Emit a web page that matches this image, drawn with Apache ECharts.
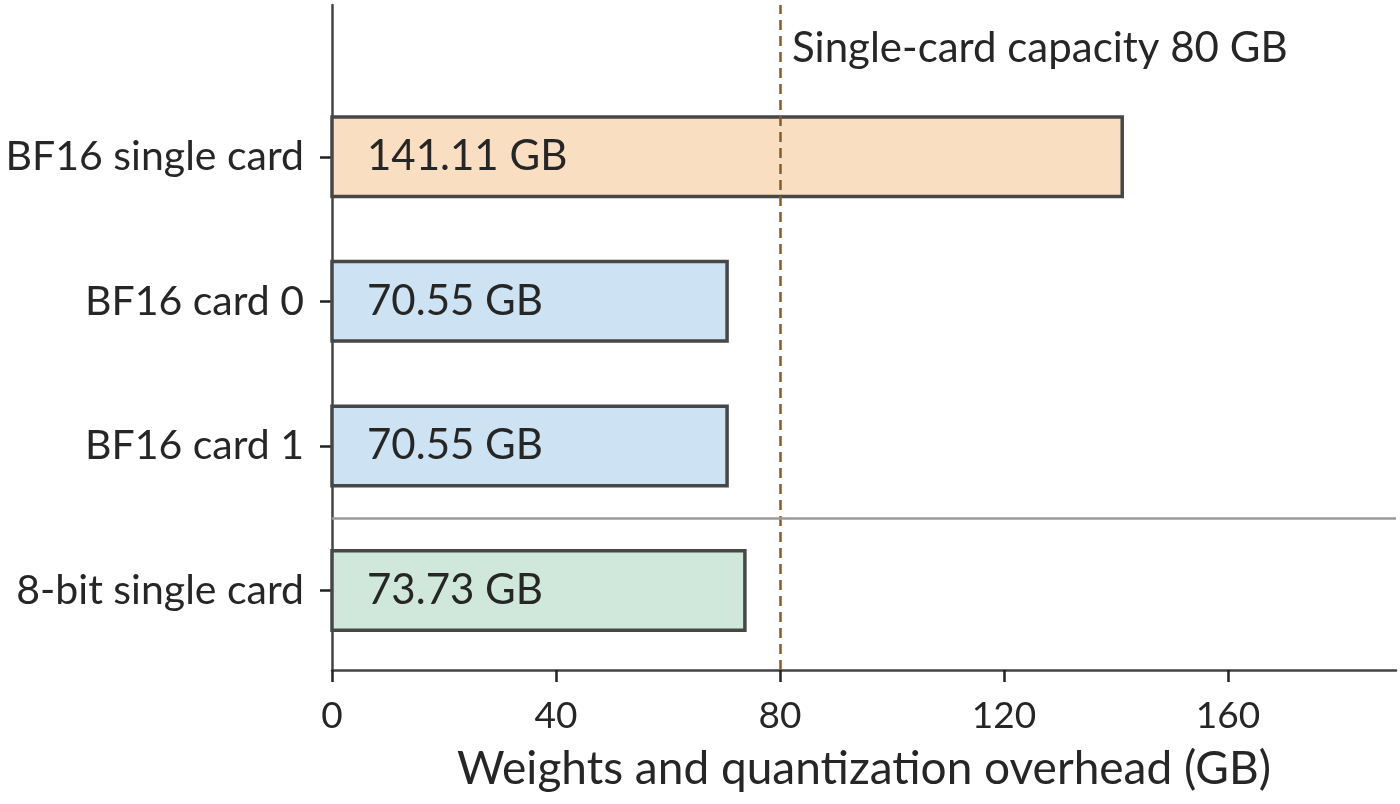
<!DOCTYPE html>
<html>
<head>
<meta charset="utf-8">
<script src="https://cdn.jsdelivr.net/npm/echarts@6/dist/echarts.min.js"></script>
<style>
  html, body { margin: 0; padding: 0; background: #fff; }
  #main { width: 1400px; height: 804px; }
</style>
</head>
<body>
<div id="main"></div>
<script>
// data, bottom to top (value axis position = index)
var categories = ['8-bit single card', 'BF16 card 1', 'BF16 card 0', 'BF16 single card'];
var memory = [73.73, 70.55, 70.55, 141.11];
var xTicks = [0, 40, 80, 120, 160];
var capacity = 80;
var capacityText = 'Single-card capacity 80 GB';

var fills = ['#d0e8dc', '#cde3f3', '#cde3f3', '#f9dec1'];
var font = 'Lato, "Source Sans Pro", sans-serif';
var barH = 0.55;

var myChart = echarts.init(document.getElementById('main'));

var barData = memory.map(function (v, i) { return [v, i]; });

var option = {
    backgroundColor: '#ffffff',
    animation: false,
    textStyle: { fontFamily: font },
    grid: { left: 332, right: 4, top: 5, bottom: 134 },
    xAxis: {
        type: 'value',
        min: 0,
        max: 190,
        interval: 40,
        name: 'Weights and quantization overhead (GB)',
        nameLocation: 'middle',
        nameGap: 76,
        nameTextStyle: { fontSize: 46, color: '#262626', fontFamily: font },
        axisLine: { show: true, onZero: false, lineStyle: { color: '#444', width: 2.5 } },
        axisTick: { show: true, length: 12, customValues: xTicks, lineStyle: { color: '#222', width: 2.5 } },
        axisLabel: { customValues: xTicks, fontSize: 37, color: '#262626', margin: 28, fontFamily: font },
        splitLine: { show: false }
    },
    yAxis: {
        type: 'value',
        min: -0.55,
        max: 4.05,
        axisLine: { show: true, onZero: false, lineStyle: { color: '#444', width: 2.5 } },
        axisTick: { show: true, length: 12, customValues: [0, 1, 2, 3], lineStyle: { color: '#222', width: 2.5 } },
        axisLabel: {
            customValues: [0, 1, 2, 3],
            fontSize: 41,
            color: '#262626',
            margin: 28,
            fontFamily: font,
            formatter: function (v) { return categories[Math.round(v)]; }
        },
        splitLine: { show: false }
    },
    series: [
        {
            type: 'custom',
            data: barData,
            encode: { x: 0, y: 1 },
            z: 3,
            renderItem: function (params, api) {
                var y = api.value(1);
                var start = api.coord([0, y]);
                var end = api.coord([api.value(0), y]);
                var h = api.size([0, barH])[1];
                return {
                    type: 'group',
                    children: [
                        {
                            type: 'rect',
                            shape: { x: start[0], y: start[1] - h / 2, width: end[0] - start[0], height: h },
                            style: { fill: fills[params.dataIndex], stroke: '#474747', lineWidth: 3.5 }
                        },
                        {
                            type: 'text',
                            x: start[0] + 35,
                            y: start[1],
                            style: {
                                text: api.value(0).toFixed(2) + ' GB',
                                fill: '#262626',
                                font: '42px ' + font,
                                verticalAlign: 'middle'
                            }
                        }
                    ]
                };
            },
            markLine: {
                silent: true,
                symbol: 'none',
                label: { show: false },
                z: 4,
                data: [
                    { xAxis: capacity, lineStyle: { color: '#8b5a2b', type: [10, 6], width: 2.5 } },
                    { yAxis: 0.5, lineStyle: { color: '#9a9a9a', type: 'solid', width: 2.5 }, z: 1 }
                ]
            }
        },
        {
            type: 'scatter',
            symbolSize: 0,
            silent: true,
            itemStyle: { opacity: 1 },
            data: [[capacity, 3.75]],
            label: {
                show: true,
                position: 'right',
                distance: 12,
                formatter: capacityText,
                fontSize: 42,
                color: '#262626',
                opacity: 1,
                fontFamily: font
            }
        }
    ]
};

myChart.setOption(option);
</script>
</body>
</html>
